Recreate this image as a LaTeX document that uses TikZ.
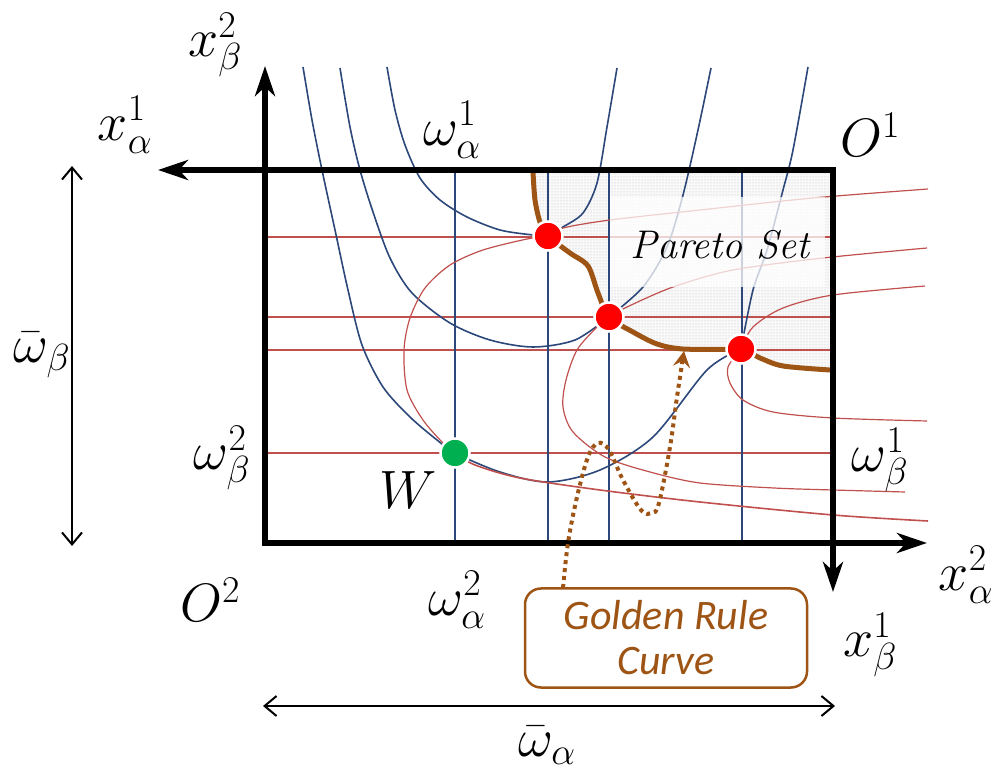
\RequirePackage{fix-cm}
\documentclass[tikz,border=0pt]{standalone}
\usepackage{fontspec}
\newfontfamily\calibri{Carlito}
\usetikzlibrary{arrows.meta,patterns}
\definecolor{cblue}{RGB}{44,72,122}
\definecolor{cred}{RGB}{192,80,77}
\definecolor{cbrown}{RGB}{158,84,20}
\definecolor{cdot}{RGB}{255,0,0}
\definecolor{cgreen}{RGB}{0,176,80}
\begin{document}
\begin{tikzpicture}[x=1pt,y=-1pt,
  bl/.style={cblue,line width=1.6pt},
  rd/.style={cred,line width=1.6pt},
  rdc/.style={cred,line width=1.2pt},
  axisline/.style={line width=6pt,-{Stealth[length=30pt,width=20pt,inset=9pt]}},
  thinarrow/.style={line width=2pt,{Straight Barb[length=12pt,width=20pt]}-{Straight Barb[length=12pt,width=20pt]}},
  lab/.style={font=\fontsize{54}{60}\selectfont,inner sep=0pt},
  ptdot/.style={circle,minimum size=29pt,inner sep=0pt,draw=white,line width=2.5pt},
]
\useasboundingbox (0,0) rectangle (997,783);

% Pareto region
\fill[gray!5] plot[smooth] coordinates {(533,170) (535,200) (540,222) (548,236) (570,253) (588,266) (598,293) (609,317) (633,332) (657,344) (683,349) (741,350) (760,358) (783,366) (833,370)} -- (833,170) -- cycle;
\fill[pattern=dots,pattern color=gray!55] plot[smooth] coordinates {(533,170) (535,200) (540,222) (548,236) (570,253) (588,266) (598,293) (609,317) (633,332) (657,344) (683,349) (741,350) (760,358) (783,366) (833,370)} -- (833,170) -- cycle;

% straight lines
\foreach \yy in {237,317,350,453} \draw[rd] (265,\yy) -- (833,\yy);
\foreach \xx in {455,548,609,742} \draw[bl] (\xx,170) -- (\xx,543);

% named points
\coordinate (P1) at (548,236);
\coordinate (P2) at (609,317);
\coordinate (P3) at (741,349);
\coordinate (Wp) at (455,453);

% blue curves
\draw[bl] plot[smooth] coordinates {(303,67) (312,120) (322,170) (335,230) (348,290) (362,345) (383,387) (410,417) (437,440) (455,453) (500,472) (548,482) (600,470) (653,437) (707,370) (741,349)};
\draw[bl] plot[smooth] coordinates {(741,349) (753,290) (767,250) (783,190) (793,150) (808,67)};
\draw[bl] plot[smooth] coordinates {(340,68) (350,127) (360,170) (373,212) (390,258) (412,293) (450,323) (490,340) (533,347) (575,340) (609,317)};
\draw[bl] plot[smooth] coordinates {(609,317) (643,287) (667,247) (683,195) (698,130) (711,68)};
\draw[bl] plot[smooth] coordinates {(387,67) (395,110) (405,145) (420,178) (440,200) (467,217) (500,230) (533,235) (548,236)};
\draw[bl] plot[smooth] coordinates {(548,236) (563,227) (583,213) (597,183) (607,127) (617,68)};

% red curves
\draw[rdc] plot[smooth] coordinates {(928,189) (813,198) (700,210) (610,220) (563,228) (548,236)};
\draw[rdc] plot[smooth] coordinates {(548,236) (527,239) (483,250) (450,265) (425,288) (410,318) (404,350) (407,390) (423,420) (443,443) (455,453)};
\draw[rd] plot[smooth] coordinates {(455,453) (475,465) (520,478) (600,490) (700,502) (833,515) (928,521)};
\draw[rdc] plot[smooth] coordinates {(927,248) (823,258) (733,270) (673,287) (627,307) (609,317)};
\draw[rdc] plot[smooth] coordinates {(609,317) (597,327) (577,350) (566,380) (563,407) (573,432) (605,457) (650,472) (700,483) (774,488) (833,490) (905,492)};
\draw[rdc] plot[smooth] coordinates {(925,286) (833,295) (783,308) (753,327) (741,349)};
\draw[rdc] plot[smooth] coordinates {(741,349) (728,367) (730,383) (743,400) (773,412) (833,418) (927,421)};

% Pareto label background
\fill[white,opacity=0.75] (610,197) rectangle (825,287);
\node[inner sep=0pt,font=\fontsize{40}{44}\selectfont\itshape] (pareto) at (720,245) {Pareto Set};

% golden rule curve (brown)
\draw[cbrown,line width=5pt,line cap=round] plot[smooth] coordinates {(533,172) (535,200) (540,222) (548,236) (570,253) (588,266) (598,293) (609,317) (633,332) (657,344) (683,349) (741,350) (760,358) (783,366) (830,370)};

% axes / box
\coordinate (O2) at (265,543);
\coordinate (O1) at (833,170);
\coordinate (ytop) at (265,66);
\coordinate (xleft) at (158,170);
\coordinate (xright) at (927,543);
\coordinate (ybot) at (833,592);
\draw[axisline] (265,546) -- (ytop);
\draw[axisline] (836,170) -- (xleft);
\draw[axisline] (262,543) -- (xright);
\draw[axisline] (833,167) -- (ybot);

% thin double arrows
\coordinate (la) at (72,166);
\coordinate (lb) at (72,546);
\coordinate (ba) at (263,706);
\coordinate (bb) at (835,706);
\draw[thinarrow] (la) -- (lb);
\draw[thinarrow] (ba) -- (bb);

% dots
\node[ptdot,fill=cdot] (D1) at (P1) {};
\node[ptdot,fill=cdot] (D2) at (P2) {};
\node[ptdot,fill=cdot] (D3) at (P3) {};
\node[ptdot,fill=cgreen] (DW) at (Wp) {};

% golden rule box and dotted arrow
\node[draw=cbrown,line width=2.5pt,rounded corners=16pt,minimum width=282pt,minimum height=99pt,inner sep=0pt,
  text=cbrown,align=center,font=\calibri\itshape\fontsize{42}{45}\selectfont] (gr) at (666,638) {Golden Rule\\Curve};
\coordinate (gstart) at (563,588);
\coordinate (gtip) at (684,351);
\draw[cbrown,line width=4pt,dash pattern=on 4pt off 4pt,-{Stealth[length=16pt,width=17pt,inset=6pt]}]
  plot[smooth,tension=0.6] coordinates {(gstart) (568,543) (577,497) (588,457) (598,443) (609,450) (623,480) (641,510) (652,513) (659,503) (670,447) (677,397) (gtip)};

% labels
\node[lab] (lxb2) at (215,45) {$x_\beta^2$};
\node[lab] (lxa1) at (125,125) {$x_\alpha^1$};
\node[lab] (lwa1) at (452,130) {$\omega_\alpha^1$};
\node[lab] (lO1) at (870,135) {$O^1$};
\node[lab] (lwb) at (42,355) {$\bar\omega_\beta$};
\node[lab] (lwb2) at (222,458) {$\omega_\beta^2$};
\node[lab] (lW) at (408,490) {$W$};
\node[lab] (lwb1) at (880,460) {$\omega_\beta^1$};
\node[lab] (lO2) at (210,600) {$O^2$};
\node[lab] (lwa2) at (457,600) {$\omega_\alpha^2$};
\node[lab] (lxa2) at (966,575) {$x_\alpha^2$};
\node[lab] (lxb1) at (870,645) {$x_\beta^1$};
\node[lab] (lwa) at (547,745) {$\bar\omega_\alpha$};
\end{tikzpicture}
\end{document}
